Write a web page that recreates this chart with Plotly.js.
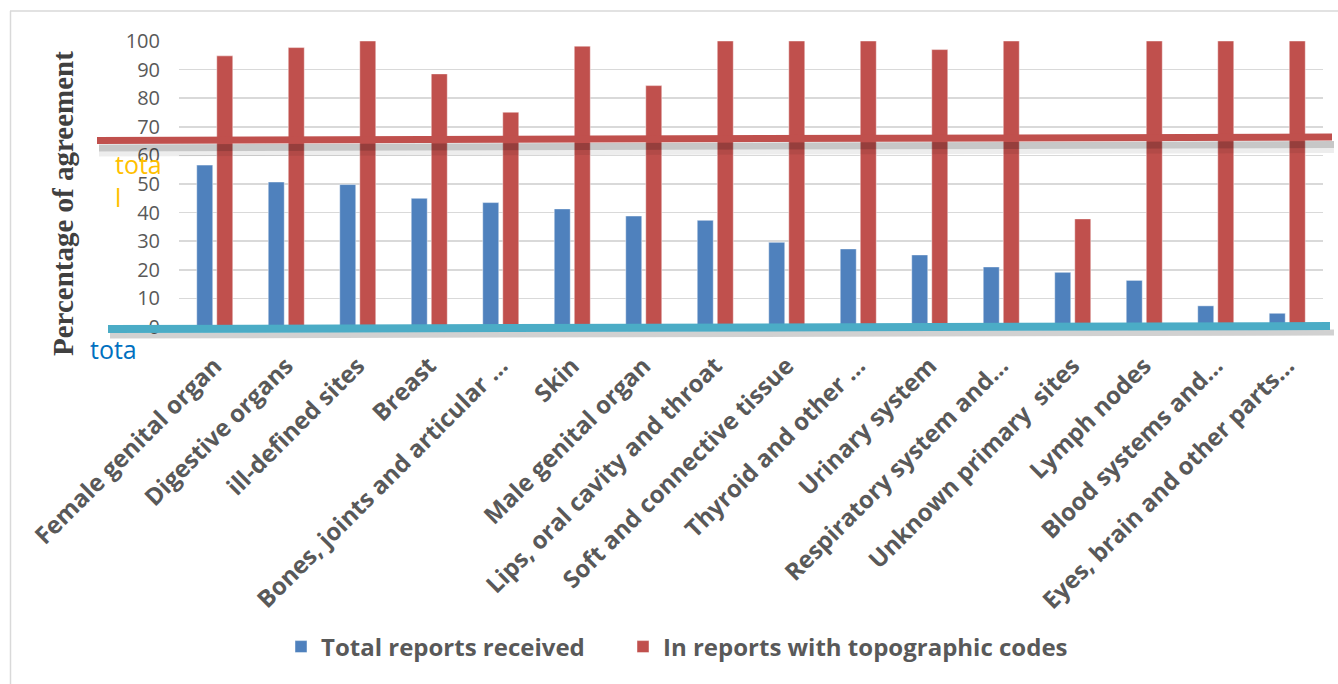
<!DOCTYPE html>
<html>
<head>
<meta charset="utf-8">
<script src="https://cdn.plot.ly/plotly-3.0.1.min.js"></script>
<style>
html,body{margin:0;padding:0;background:#fff;}
#chart{width:1338px;height:684px;}
</style>
</head>
<body>
<div id="chart"></div>
<script>
// ---- data ----
const categories = [
  "Female genital organ","Digestive organs","ill-defined sites","Breast",
  "Bones, joints and articular …","Skin","Male genital organ",
  "Lips, oral cavity and throat","Soft and connective tissue","Thyroid and other …",
  "Urinary system","Respiratory system and…","Unknown primary\u00a0 sites",
  "Lymph nodes","Blood systems and…","Eyes, brain and other parts…"
];
const totalReports = [56.6, 50.7, 49.8, 45.0, 43.5, 41.3, 38.8, 37.3, 29.6, 27.3, 25.2, 21.0, 19.1, 16.3, 7.4, 4.8];
const topoReports  = [94.8, 97.7, 100, 88.5, 75.1, 98.2, 84.4, 100, 100, 100, 97.0, 100, 37.8, 100, 100, 100];
const seriesNames = ["Total reports received", "In reports with topographic codes"];
const yTicks = [0,10,20,30,40,50,60,70,80,90,100];

// ---- geometry helpers (plot area in px) ----
const W = 1338, H = 684;
const PL = 179, PR = 1323, PT = 41, PB = 327;
const xp = px => (px - PL) / (PR - PL);
const yp = py => (PB - py) / (PB - PT);

function seg(x0, y0, x1, y1, color, width) {
  return {type:'line', xref:'paper', yref:'paper', layer:'above',
          x0:xp(x0), y0:yp(y0), x1:xp(x1), y1:yp(y1),
          line:{color:color, width:width}};
}

const shapes = [
  // outer frame (left and top edges visible)
  seg(10.5, 11, 10.5, 700, '#D9D9D9', 1.5),
  seg(10, 11, 1345, 11, '#D9D9D9', 1.5),
  // red decorative line with shadow
  seg(99, 154, 1334, 150.5, 'rgba(0,0,0,0.07)', 5),
  seg(99, 148, 1334, 144.5, 'rgba(0,0,0,0.22)', 7),
  seg(97, 140.5, 1332, 137, '#C0504D', 7),
  // teal decorative line with shadow
  seg(110, 335.5, 1334, 332.5, 'rgba(0,0,0,0.18)', 6),
  seg(108, 329, 1330, 326, '#4BACC6', 8)
];

const legendFont = {family:'"Open Sans", sans-serif', size:24, color:'#595959', weight:'bold'};

const annotations = [
  {xref:'paper', yref:'paper', x:xp(63), y:yp(204), xanchor:'center', yanchor:'middle',
   text:'Percentage of agreement', textangle:-90, showarrow:false,
   font:{family:'"Liberation Serif", "DejaVu Serif", serif', size:29, color:'#404040', weight:'bold'}},
  {xref:'paper', yref:'paper', x:xp(113), y:yp(145), xanchor:'left', yanchor:'top',
   text:'tota<br>l', showarrow:false, align:'left',
   font:{family:'"Open Sans", sans-serif', size:25, color:'#FFC000'}},
  {xref:'paper', yref:'paper', x:xp(88), y:yp(330), xanchor:'left', yanchor:'top',
   text:'tota', showarrow:false, align:'left',
   font:{family:'"Open Sans", sans-serif', size:25, color:'#0070C0'}}
];

const data = [
  {type:'bar', name:seriesNames[0], x:categories, y:totalReports, legend:'legend',
   marker:{color:'#4F81BD', line:{color:'rgba(255,255,255,0.45)', width:1}}},
  {type:'bar', name:seriesNames[1], x:categories, y:topoReports, legend:'legend2',
   marker:{color:'#C0504D', line:{color:'rgba(255,255,255,0.45)', width:1}}}
];

const layout = {
  width:W, height:H,
  margin:{l:PL, r:W-PR, t:PT, b:H-PB, pad:0},
  paper_bgcolor:'#fff', plot_bgcolor:'#fff',
  barmode:'group', bargap:0.44, bargroupgap:0.2,
  font:{family:'"Open Sans", sans-serif', color:'#595959'},
  xaxis:{
    type:'category', tickangle:-45, showgrid:false, zeroline:false, showline:false,
    ticks:'', ticklabelstandoff:19,
    tickfont:{family:'"Open Sans", sans-serif', size:24, color:'#595959', weight:'bold'}
  },
  yaxis:{
    range:[0,100], tickvals:yTicks, ticktext:yTicks.map(String),
    showgrid:true, gridcolor:'#D9D9D9', gridwidth:1.5, zeroline:false, showline:false,
    ticks:'', ticklabelstandoff:18,
    tickfont:{family:'"Open Sans", sans-serif', size:20, color:'#595959'}
  },
  showlegend:true,
  legend:{
    orientation:'h', xanchor:'left', yanchor:'middle',
    x:xp(281), y:yp(647), font:legendFont, bgcolor:'rgba(0,0,0,0)'
  },
  legend2:{
    orientation:'h', xanchor:'left', yanchor:'middle',
    x:xp(623), y:yp(647), font:legendFont, bgcolor:'rgba(0,0,0,0)'
  },
  shapes:shapes,
  annotations:annotations
};

Plotly.newPlot('chart', data, layout, {displayModeBar:false, staticPlot:true});
</script>
</body>
</html>
